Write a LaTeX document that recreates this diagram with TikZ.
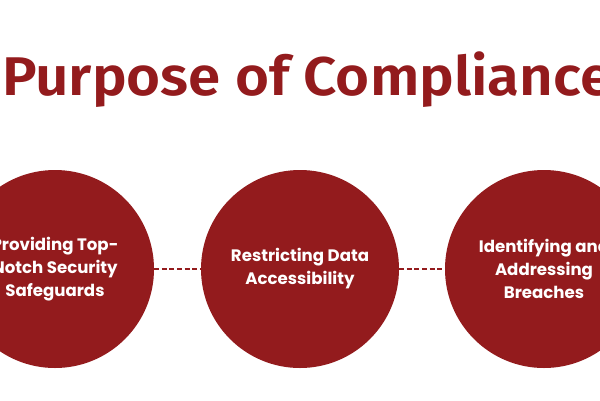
\documentclass[tikz,border=0pt]{standalone}
\usepackage{fontspec}
\newfontfamily\titlefont{Fira Sans SemiBold}[FakeStretch=1.07]
\newfontfamily\circfont{Poppins}
\definecolor{cred}{HTML}{931B1D}
\begin{document}
\begin{tikzpicture}[x=1pt,y=-1pt,
  bubble/.style={circle, fill=cred, minimum size=198pt, inner sep=0pt, align=center,
    text=white, font=\circfont\bfseries\fontsize{16.6}{23}\selectfont},
  link/.style={cred, line width=1.8pt, dash pattern=on 5pt off 2.6pt}]
\useasboundingbox (0,0) rectangle (600,400);
\clip (0,0) rectangle (600,400);
\fill[white] (0,0) rectangle (600,400);
\node[anchor=base west, inner sep=0pt, text=cred, font=\titlefont\fontsize{54.5}{60}\selectfont] (title) at (2,95) {Purpose of Compliance};
\node[bubble] (c1) at (55,269) {Providing Top-\\Notch Security\\Safeguards};
\node[bubble] (c2) at (300,269) {Restricting Data\\Accessibility};
\node[bubble] (c3) at (544,269) {Identifying and\\Addressing\\Breaches};
\draw[link] (c1.east) -- (c2.west);
\draw[link] (c2.east) -- (c3.west);
\end{tikzpicture}
\end{document}
